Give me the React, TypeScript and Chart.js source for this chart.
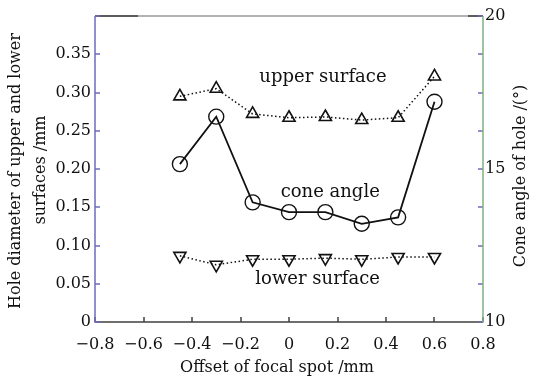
import React, { useEffect, useRef } from "react";
import { Chart, registerables } from "chart.js";

Chart.register(...registerables);

const offsets = [-0.45, -0.3, -0.15, 0, 0.15, 0.3, 0.45, 0.6];
const upperSurface = [0.295, 0.305, 0.272, 0.267, 0.268, 0.264, 0.267, 0.321];
const lowerSurface = [0.0865, 0.0748, 0.082, 0.082, 0.0835, 0.082, 0.085, 0.085];
const coneAngle = [15.16, 16.71, 13.91, 13.59, 13.59, 13.21, 13.42, 17.2];

const xTitle = "Offset of focal spot /mm";
const yTitleLines = ["Hole diameter of upper and lower", "surfaces /mm"];
const y2Title = "Cone angle of hole /(\u00b0)";
const annotations = [
  { text: "upper surface", x: 0.14, y: 0.32 },
  { text: "cone angle", x: 0.17, y: 0.17 },
  { text: "lower surface", x: 0.118, y: 0.056 },
];

const FONT = "DejaVu Serif";
const LEFT_COLOR = "#6c6cc0";
const RIGHT_COLOR = "#7fb07f";
const DARK = "#404040";

const framePlugin = {
  id: "frame",
  afterDraw(chart: any) {
    const { ctx, chartArea, scales } = chart;
    const { left, right, top, bottom } = chartArea;
    ctx.save();
    ctx.lineWidth = 1.5;
    ctx.lineCap = "butt";
    // top border
    ctx.strokeStyle = "#9a9a9a";
    ctx.beginPath();
    ctx.moveTo(left, top);
    ctx.lineTo(right, top);
    ctx.stroke();
    ctx.strokeStyle = DARK;
    ctx.beginPath();
    ctx.moveTo(left, top);
    ctx.lineTo(left + 43, top);
    ctx.moveTo(right - 15, top);
    ctx.lineTo(right, top);
    ctx.stroke();
    // bottom border and ticks
    ctx.strokeStyle = DARK;
    ctx.beginPath();
    ctx.moveTo(left, bottom);
    ctx.lineTo(right, bottom);
    scales.x.ticks.forEach((t: any) => {
      const px = Math.round(scales.x.getPixelForValue(t.value));
      ctx.moveTo(px, bottom);
      ctx.lineTo(px, bottom - 5);
    });
    ctx.stroke();
    // left axis and its ticks (mirrored on right side)
    ctx.strokeStyle = LEFT_COLOR;
    ctx.beginPath();
    ctx.moveTo(left, top);
    ctx.lineTo(left, bottom + 0.75);
    scales.y.ticks.forEach((t: any) => {
      const py = Math.round(scales.y.getPixelForValue(t.value));
      ctx.moveTo(left, py);
      ctx.lineTo(left + 5, py);
      ctx.moveTo(right, py);
      ctx.lineTo(right - 5, py);
    });
    ctx.stroke();
    // right axis
    ctx.strokeStyle = RIGHT_COLOR;
    ctx.beginPath();
    ctx.moveTo(right, top);
    ctx.lineTo(right, bottom + 0.75);
    ctx.stroke();

    // annotations
    ctx.fillStyle = "#111";
    ctx.font = `18px "${FONT}"`;
    ctx.textAlign = "center";
    ctx.textBaseline = "middle";
    annotations.forEach((a) => {
      ctx.fillText(a.text, scales.x.getPixelForValue(a.x), scales.y.getPixelForValue(a.y));
    });

    // titles
    ctx.font = `16px "${FONT}"`;
    ctx.fillText(xTitle, 277, 368);
    ctx.save();
    ctx.translate(16, 171);
    ctx.rotate(-Math.PI / 2);
    ctx.fillText(yTitleLines[0], 0, 0);
    ctx.restore();
    ctx.save();
    ctx.translate(41, 170);
    ctx.rotate(-Math.PI / 2);
    ctx.fillText(yTitleLines[1], 0, 0);
    ctx.restore();
    ctx.save();
    ctx.translate(521, 176);
    ctx.rotate(-Math.PI / 2);
    ctx.fillText(y2Title, 0, 0);
    ctx.restore();
    ctx.restore();
  },
};

const tickFont = { family: FONT, size: 16 };

export default function App() {
  const ref = useRef<HTMLCanvasElement | null>(null);
  useEffect(() => {
    if (!ref.current) return;
    const toPts = (ys: number[]) => offsets.map((x, i) => ({ x, y: ys[i] }));
    const chart = new Chart(ref.current, {
      type: "line",
      data: {
        datasets: [
          {
            label: "upper surface",
            data: toPts(upperSurface),
            yAxisID: "y",
            borderColor: "#111",
            borderWidth: 1.5,
            borderDash: [1.5, 2.5],
            pointStyle: "triangle",
            pointRadius: 7,
            pointBorderWidth: 1.6,
            pointBorderColor: "#111",
            pointBackgroundColor: "rgba(0,0,0,0)",
            fill: false,
          },
          {
            label: "lower surface",
            data: toPts(lowerSurface),
            yAxisID: "y",
            borderColor: "#111",
            borderWidth: 1.5,
            borderDash: [1.5, 2.5],
            pointStyle: "triangle",
            rotation: 180,
            pointRadius: 7,
            pointBorderWidth: 1.6,
            pointBorderColor: "#111",
            pointBackgroundColor: "rgba(0,0,0,0)",
            fill: false,
          },
          {
            label: "cone angle",
            data: toPts(coneAngle),
            yAxisID: "y2",
            borderColor: "#111",
            borderWidth: 1.8,
            pointStyle: "circle",
            pointRadius: 7.5,
            pointBorderWidth: 1.4,
            pointBorderColor: "#111",
            pointBackgroundColor: "rgba(0,0,0,0)",
            fill: false,
          },
        ],
      },
      options: {
        responsive: false,
        animation: false,
        layout: { padding: { top: 16, left: 0, right: 0, bottom: 0 } },
        plugins: { legend: { display: false }, tooltip: { enabled: false } },
        scales: {
          x: {
            type: "linear",
            min: -0.8,
            max: 0.8,
            grid: { display: false, drawTicks: false },
            border: { display: false },
            ticks: {
              stepSize: 0.2,
              autoSkip: false,
              maxRotation: 0,
              padding: 13,
              color: "#111",
              font: tickFont,
              callback: (v: any) => {
                const r = Math.round(Number(v) * 10) / 10;
                if (r === 0) return "0";
                return (r < 0 ? "\u2212" : "") + Math.abs(r).toFixed(1);
              },
            },
            afterFit: (s: any) => {
              s.height = 58;
            },
          },
          y: {
            type: "linear",
            position: "left",
            min: 0,
            max: 0.4,
            grid: { display: false, drawTicks: false },
            border: { display: false },
            ticks: {
              stepSize: 0.05,
              padding: 4,
              color: "#111",
              font: tickFont,
              callback: (v: any) => {
                const r = Math.round(Number(v) * 100) / 100;
                if (r === 0) return "0";
                if (r > 0.375) return "";
                return r.toFixed(2);
              },
            },
            afterFit: (s: any) => {
              s.width = 95;
            },
          },
          y2: {
            type: "linear",
            position: "right",
            min: 10,
            max: 20,
            grid: { display: false, drawTicks: false },
            border: { display: false },
            ticks: {
              stepSize: 5,
              padding: 2,
              color: "#111",
              font: tickFont,
              callback: (v: any) => String(v),
            },
            afterFit: (s: any) => {
              s.width = 52;
            },
          },
        },
      },
      plugins: [framePlugin],
    });
    return () => chart.destroy();
  }, []);
  return (
    <div style={{ position: "fixed", left: 0, top: 0, width: 535, height: 380, background: "#fff" }}>
      <canvas ref={ref} width={535} height={380} style={{ display: "block" }} />
    </div>
  );
}
